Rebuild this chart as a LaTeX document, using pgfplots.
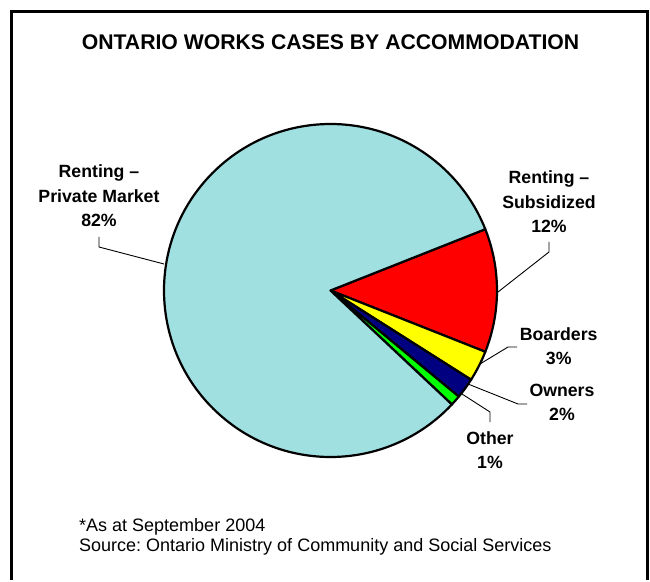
\documentclass[border=0pt]{standalone}
\usepackage{fontspec}
\setmainfont{Liberation Sans}
\usepackage{pgfplots}
\usepackage{pgfplotstable}
\pgfplotsset{compat=1.18}
\frenchspacing

\definecolor{ontCyan}{RGB}{160,224,224}
\definecolor{ontRed}{RGB}{255,0,0}
\definecolor{ontYellow}{RGB}{255,255,0}
\definecolor{ontNavy}{RGB}{0,0,128}
\definecolor{ontGreen}{RGB}{0,255,0}

% share of cases (%) and slice colour, clockwise from the first slice
\pgfplotstableread{
share colour
12 ontRed
3  ontYellow
2  ontNavy
1  ontGreen
82 ontCyan
}\accommodation

\newcommand\titlefont{\fontsize{21.2}{25}\selectfont\bfseries}
\newcommand\labelfont{\fontsize{17.7}{21}\selectfont\bfseries}
\newcommand\notefont{\fontsize{18}{21}\selectfont}

\begin{document}
\begin{tikzpicture}
\begin{axis}[x=1pt, y=1pt, xmin=0, xmax=650, ymin=0, ymax=580,
  hide axis, clip=false]
  % full canvas
  \path (axis cs:0,0) rectangle (axis cs:650,580);
  % outer frame
  \draw[line width=3pt] (axis cs:11.5,0) -- (axis cs:11.5,568)
     -- (axis cs:647.5,568) -- (axis cs:647.5,0);

  % pie slices
  \pgfplotstablegetrowsof{\accommodation}
  \pgfmathtruncatemacro\lastrow{\pgfplotsretval-1}
  \def\angleA{21.6}
  \pgfplotsforeachungrouped \i in {0,...,\lastrow}{%
    \pgfplotstablegetelem{\i}{share}\of\accommodation
    \let\v\pgfplotsretval
    \pgfplotstablegetelem{\i}{colour}\of\accommodation
    \let\c\pgfplotsretval
    \pgfmathsetmacro\angleB{\angleA-3.6*\v}
    \pgfmathsetmacro\px{330.5+166.5*cos(\angleA)}
    \pgfmathsetmacro\py{289.5+166.5*sin(\angleA)}
    \edef\slice{\noexpand\filldraw[fill=\c, draw=black, line width=2.2pt,
      line join=round] (axis cs:330.5,289.5) -- (axis cs:\px,\py)
      arc[start angle=\angleA, end angle=\angleB, radius=166.5] -- cycle;}%
    \slice
    \global\let\angleA\angleB
  }

  % leader lines
  \draw[line width=0.9pt] (axis cs:164,316) -- (axis cs:99,333) -- (axis cs:99,343);
  \draw[line width=0.9pt] (axis cs:498,288) -- (axis cs:549,328) -- (axis cs:549,338);
  \draw[line width=0.9pt] (axis cs:480,216) -- (axis cs:508,233) -- (axis cs:517,233);
  \draw[line width=0.9pt] (axis cs:468,196) -- (axis cs:518,176) -- (axis cs:527,176);
  \draw[line width=0.9pt] (axis cs:462,186) -- (axis cs:490,168) -- (axis cs:490,158);

  % title
  \node[anchor=base, inner sep=0pt, font=\titlefont] at (axis cs:330.5,530)
    {ONTARIO WORKS CASES BY ACCOMMODATION};

  % slice labels
  \begin{scope}[every node/.style={anchor=base, inner sep=0pt, font=\labelfont}]
    \node at (axis cs:99,402) {Renting –};
    \node at (axis cs:99,377) {Private Market};
    \node at (axis cs:99,353) {82\%};
    \node at (axis cs:549,396) {Renting –};
    \node at (axis cs:549,371.5) {Subsidized};
    \node at (axis cs:549,347.5) {12\%};
    \node at (axis cs:558.7,239.3) {Boarders};
    \node at (axis cs:558.7,215) {3\%};
    \node at (axis cs:562,183.3) {Owners};
    \node at (axis cs:562,159.3) {2\%};
    \node at (axis cs:490,136) {Other};
    \node at (axis cs:490,111.7) {1\%};
  \end{scope}

  % notes
  \node[anchor=base west, inner sep=0pt, font=\notefont] at (axis cs:79,49)
    {*As at September 2004};
  \node[anchor=base west, inner sep=0pt, font=\notefont] at (axis cs:79,28.3)
    {Source: Ontario Ministry of Community and Social Services};
\end{axis}
\end{tikzpicture}
\end{document}
